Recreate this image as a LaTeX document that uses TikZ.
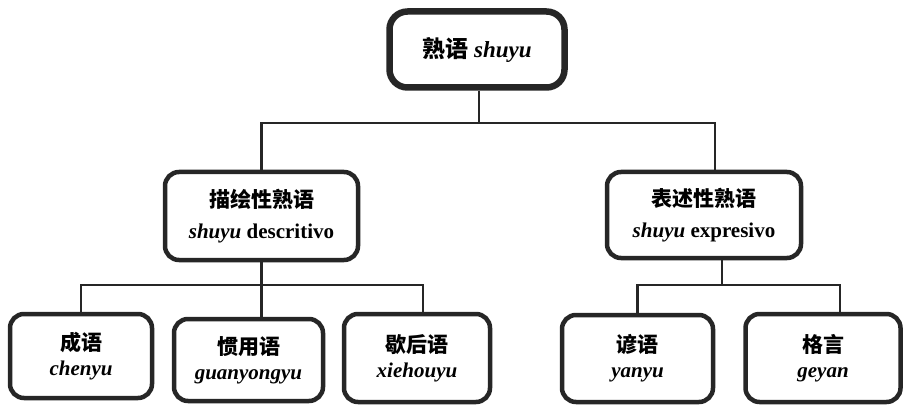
\documentclass[tikz,border=0pt]{standalone}
\usepackage{fontspec}
\setmainfont{Liberation Serif}
\newfontfamily\cjk{Noto Sans CJK SC}
\begin{document}
\begin{tikzpicture}[x=1pt,y=-1pt,
  box/.style={draw=black!85, line width=4.5pt, rounded corners=14pt, fill=white,
    align=center, inner sep=0pt, font=\fontsize{21}{25}\selectfont\bfseries},
  midbox/.style={box, font=\fontsize{21}{31}\selectfont\bfseries},
  topbox/.style={box, line width=6.5pt, rounded corners=18pt, font=\fontsize{23}{27}\selectfont\bfseries},
  conn/.style={draw=black!85, line width=2.6pt}]
\useasboundingbox (0,0) rectangle (904,406);
\node[topbox, minimum width=175pt, minimum height=76pt] (top) at (477,49.5) {{\cjk 熟语} \textit{shuyu}};
\node[midbox, minimum width=193pt, minimum height=88pt] (lmid) at (261.5,216) {{\cjk 描绘性熟语}\\\textit{shuyu} descritivo};
\node[midbox, minimum width=194pt, minimum height=86pt] (rmid) at (704,215) {{\cjk 表述性熟语}\\\textit{shuyu} expresivo};
\node[box, minimum width=142pt, minimum height=84pt] (b1) at (81,356) {{\cjk 成语}\\\textit{chenyu}};
\node[box, minimum width=149pt, minimum height=82pt] (b2) at (248.5,360) {{\cjk 惯用语}\\\textit{guanyongyu}};
\node[box, minimum width=146pt, minimum height=88pt] (b3) at (417,358) {{\cjk 歇后语}\\\textit{xiehouyu}};
\node[box, minimum width=151pt, minimum height=87pt] (b4) at (637.5,358.5) {{\cjk 谚语}\\\textit{yanyu}};
\node[box, minimum width=155pt, minimum height=88pt] (b5) at (823,358) {{\cjk 格言}\\\textit{geyan}};
% level 1
\coordinate (j1) at (479,123);
\draw[conn] (top.south -| j1) -- (j1);
\draw[conn] (lmid.north) |- (j1) -| ([xshift=11pt]rmid.north);
% level 2 left
\coordinate (j2) at (260,285);
\draw[conn] (lmid.south) -- (lmid.south |- b2.north);
\draw[conn] (b1.north) |- (j2) -| ([xshift=6pt]b3.north);
% level 2 right
\coordinate (j3) at (722,285);
\draw[conn] ([xshift=18pt]rmid.south) -- (j3);
\draw[conn] (b4.north) |- (j3) -| ([xshift=17pt]b5.north);
\end{tikzpicture}
\end{document}
